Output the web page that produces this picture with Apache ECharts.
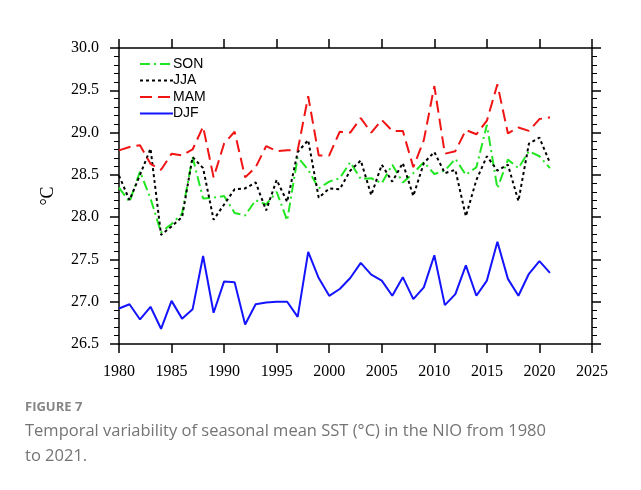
<!DOCTYPE html>
<html>
<head>
<meta charset="utf-8">
<script src="https://cdn.jsdelivr.net/npm/echarts@6/dist/echarts.min.js"></script>
<style>
html,body{margin:0;padding:0;background:#fff;overflow:hidden}
#frame{position:absolute;left:4px;top:4px;width:700px;height:520px;border:1px solid #dcdcdc}
#mainarea{position:absolute;left:0;top:0;width:641px;height:490px}
</style>
</head>
<body>
<div id="frame"></div>
<div id="mainarea"></div>
<script>
var myChart = echarts.init(document.getElementById('mainarea'));

var years = [];
for (var y = 1980; y <= 2021; y++) years.push(y);

// seasonal mean SST
var son = [28.35,28.18,28.54,28.22,27.82,27.92,28.04,28.71,28.22,28.23,28.25,28.05,28.02,28.20,28.15,28.30,27.96,28.71,28.56,28.34,28.42,28.46,28.65,28.45,28.46,28.40,28.62,28.41,28.52,28.65,28.51,28.55,28.69,28.50,28.59,29.09,28.34,28.68,28.58,28.78,28.72,28.58];
var jja = [28.49,28.20,28.50,28.81,27.79,27.89,28.00,28.71,28.58,27.97,28.15,28.33,28.34,28.41,28.08,28.44,28.18,28.77,28.91,28.23,28.34,28.33,28.55,28.67,28.26,28.62,28.42,28.64,28.25,28.64,28.77,28.52,28.56,28.01,28.44,28.72,28.55,28.62,28.19,28.87,28.94,28.64];
var mam = [28.79,28.83,28.85,28.63,28.56,28.75,28.73,28.80,29.07,28.47,28.87,29.01,28.47,28.59,28.84,28.78,28.79,28.79,29.43,28.73,28.73,29.01,29.00,29.17,29.00,29.15,29.02,29.02,28.59,28.91,29.55,28.75,28.78,29.03,28.98,29.14,29.57,28.99,29.06,29.02,29.16,29.18];
var djf = [26.92,26.97,26.79,26.94,26.68,27.01,26.80,26.91,27.54,26.87,27.24,27.23,26.73,26.97,26.99,27.00,27.00,26.82,27.59,27.28,27.07,27.15,27.28,27.46,27.32,27.25,27.07,27.29,27.03,27.17,27.55,26.96,27.09,27.43,27.07,27.25,27.71,27.27,27.07,27.33,27.48,27.34];

function pairs(vals){
  var temp = [];
  for (var i = 0; i < years.length; i++) temp.push([years[i], vals[i]]);
  return temp;
}

var serif = 'Liberation Serif';
var axisStyle = {lineStyle:{color:'#000', width:1.5}};

function xAx(pos, showLabel){
  return {
    type:'value', position:pos, min:1980, max:2025, interval:5,
    axisLine:axisStyle,
    axisTick:{show:true, length:9, lineStyle:{color:'#000', width:1.5}},
    axisLabel:{show:showLabel, fontFamily:serif, fontSize:16, color:'#000', margin:20,
      formatter:function(v){ return String(v); }},
    splitLine:{show:false}
  };
}
function yAx(pos, showLabel){
  return {
    type:'value', position:pos, min:26.5, max:30, interval:0.5,
    name: showLabel ? '°C' : '', nameLocation:'middle', nameGap:62, nameRotate:90,
    nameTextStyle:{fontFamily:serif, fontSize:18, color:'#000'},
    axisLine:axisStyle,
    axisTick:{show:true, length:9, lineStyle:{color:'#000', width:1.5}},
    minorTick:{show:true, splitNumber:5, length:5, lineStyle:{color:'#000', width:1}},
    axisLabel:{show:showLabel, fontFamily:serif, fontSize:16, color:'#000', margin:20,
      formatter:function(v){ return v.toFixed(1); }},
    splitLine:{show:false}
  };
}

function line(name, vals, color, dash){
  return {
    name:name, type:'line', data:pairs(vals), symbol:'none',
    xAxisIndex:0, yAxisIndex:0, animation:false,
    lineStyle:{color:color, width:2, type:dash},
    itemStyle:{color:color}
  };
}

var option = {
  backgroundColor:'#fff',
  animation:false,
  title:[{
    text:'FIGURE 7', left:20, top:396,
    textStyle:{fontFamily:'Open Sans', fontSize:13, fontWeight:'bold', color:'#858585'}
  },{
    text:'Temporal variability of seasonal mean SST (°C) in the NIO from 1980\nto 2021.',
    left:20, top:414,
    textStyle:{fontFamily:'Open Sans', fontSize:16.5, fontWeight:'normal', color:'#747474', lineHeight:25}
  }],
  legend:{
    orient:'vertical', left:134, top:52, itemWidth:33, itemHeight:14, itemGap:2.5,
    itemStyle:{opacity:0},
    textStyle:{fontFamily:'Liberation Sans', fontSize:14, color:'#000', padding:[0,0,0,-5]},
    data:['SON','JJA','MAM','DJF']
  },
  grid:{left:119, right:49, top:48, bottom:146},
  xAxis:[xAx('bottom', true), xAx('top', false)],
  yAxis:[yAx('left', true), yAx('right', false)],
  series:[
    line('SON', son, '#22e622', [10,4,2,4]),
    line('JJA', jja, '#000000', [3,3]),
    line('MAM', mam, '#f01414', [12,6]),
    line('DJF', djf, '#1414ff', 'solid')
  ]
};

myChart.setOption(option);
</script>
</body>
</html>
